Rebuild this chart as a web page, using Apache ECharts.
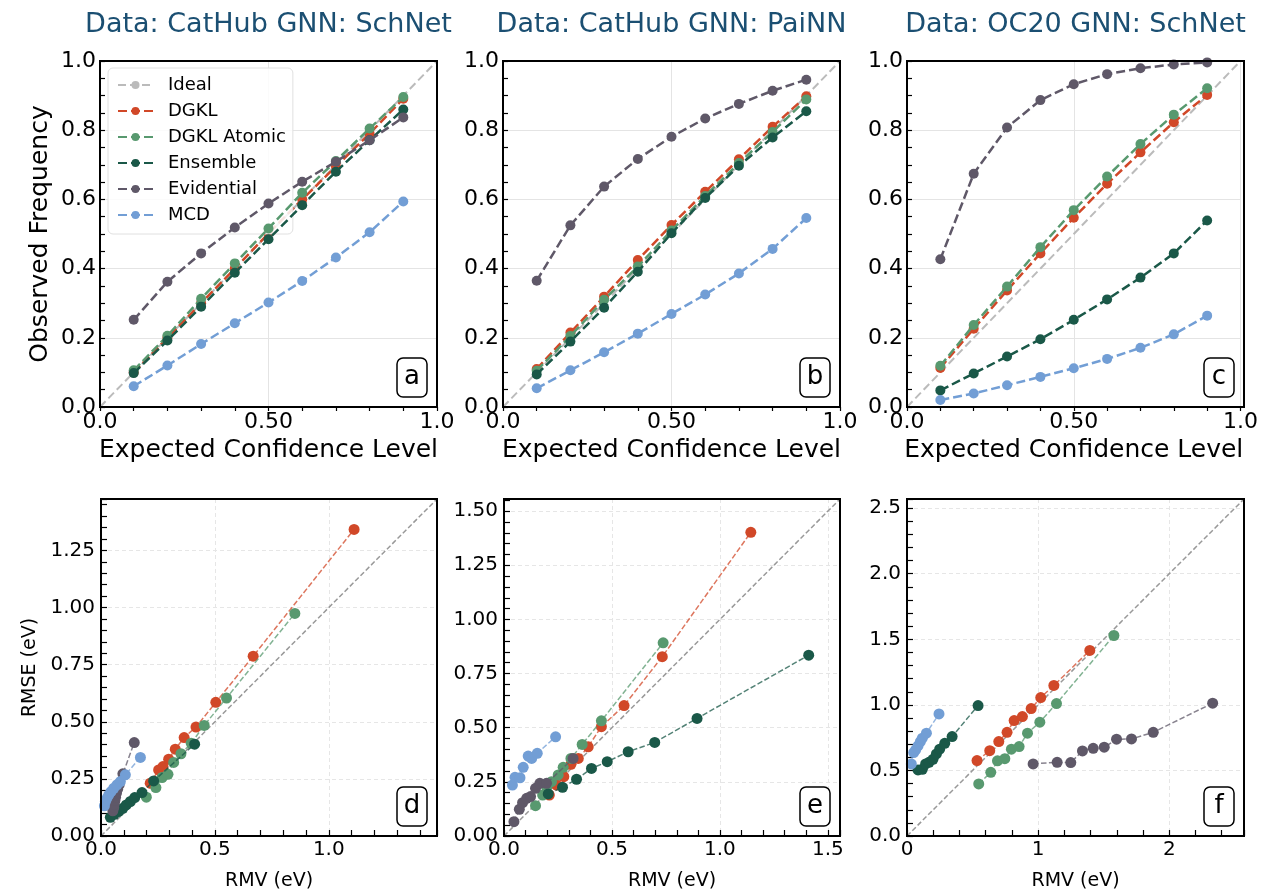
<!DOCTYPE html>
<html>
<head>
<meta charset="utf-8">
<script src="https://cdn.jsdelivr.net/npm/echarts@6/dist/echarts.min.js"></script>
<style>
html,body{margin:0;padding:0;background:#fff;}
#chart{width:1261px;height:895px;}
</style>
</head>
<body>
<div id="chart"></div>
<script>
// ---------- data ----------
const titles = ['Data: CatHub GNN: SchNet', 'Data: CatHub GNN: PaiNN', 'Data: OC20 GNN: SchNet'];
const methods = ['DGKL', 'DGKL Atomic', 'Ensemble', 'Evidential', 'MCD'];
const panelLetters = ['a', 'b', 'c', 'd', 'e', 'f'];
const confLevels = [0.1, 0.2, 0.3, 0.4, 0.5, 0.6, 0.7, 0.8, 0.9];

// calibration curves (observed frequency)
const aDGKL       = [0.100, 0.200, 0.300, 0.400, 0.502, 0.600, 0.695, 0.790, 0.891];
const aAtomic     = [0.106, 0.206, 0.313, 0.415, 0.516, 0.619, 0.711, 0.805, 0.896];
const aEnsemble   = [0.098, 0.192, 0.290, 0.388, 0.485, 0.583, 0.680, 0.771, 0.860];
const aEvidential = [0.252, 0.362, 0.444, 0.519, 0.588, 0.651, 0.709, 0.771, 0.837];
const aMCD        = [0.060, 0.120, 0.182, 0.242, 0.302, 0.364, 0.432, 0.505, 0.594];

const bDGKL       = [0.110, 0.215, 0.319, 0.425, 0.526, 0.622, 0.716, 0.810, 0.898];
const bAtomic     = [0.105, 0.205, 0.310, 0.406, 0.510, 0.610, 0.705, 0.795, 0.889];
const bEnsemble   = [0.094, 0.189, 0.287, 0.391, 0.502, 0.604, 0.697, 0.779, 0.855];
const bEvidential = [0.365, 0.525, 0.637, 0.717, 0.781, 0.834, 0.876, 0.914, 0.946];
const bMCD        = [0.054, 0.106, 0.158, 0.212, 0.269, 0.325, 0.386, 0.457, 0.546];

const cDGKL       = [0.113, 0.226, 0.337, 0.444, 0.547, 0.645, 0.736, 0.823, 0.902];
const cAtomic     = [0.119, 0.237, 0.348, 0.462, 0.569, 0.666, 0.760, 0.845, 0.921];
const cEnsemble   = [0.048, 0.097, 0.146, 0.196, 0.252, 0.311, 0.374, 0.444, 0.539];
const cEvidential = [0.427, 0.674, 0.808, 0.887, 0.933, 0.962, 0.979, 0.990, 0.996];
const cMCD        = [0.020, 0.039, 0.063, 0.087, 0.112, 0.139, 0.171, 0.210, 0.264];

// RMSE vs RMV (eV)
const dDGKL_rmv  = [0.216, 0.253, 0.272, 0.297, 0.326, 0.365, 0.417, 0.504, 0.668, 1.111];
const dDGKL_rmse = [0.231, 0.289, 0.304, 0.336, 0.380, 0.431, 0.477, 0.585, 0.787, 1.342];
const dAtomic_rmv  = [0.199, 0.241, 0.268, 0.294, 0.319, 0.351, 0.396, 0.453, 0.551, 0.851];
const dAtomic_rmse = [0.170, 0.212, 0.256, 0.270, 0.322, 0.360, 0.406, 0.484, 0.604, 0.974];
const dEnsemble_rmv  = [0.041, 0.058, 0.077, 0.096, 0.111, 0.129, 0.148, 0.180, 0.231, 0.411];
const dEnsemble_rmse = [0.082, 0.095, 0.107, 0.121, 0.136, 0.151, 0.168, 0.190, 0.241, 0.402];
const dEvidential_rmv  = [0.052, 0.056, 0.058, 0.061, 0.064, 0.068, 0.073, 0.080, 0.096, 0.146];
const dEvidential_rmse = [0.110, 0.125, 0.140, 0.155, 0.170, 0.188, 0.205, 0.225, 0.272, 0.409];
const dMCD_rmv  = [0.015, 0.019, 0.026, 0.034, 0.044, 0.056, 0.070, 0.085, 0.107, 0.173];
const dMCD_rmse = [0.132, 0.151, 0.165, 0.180, 0.194, 0.209, 0.224, 0.238, 0.268, 0.344];

const eDGKL_rmv  = [0.210, 0.243, 0.277, 0.310, 0.344, 0.390, 0.451, 0.556, 0.733, 1.143];
const eDGKL_rmse = [0.189, 0.235, 0.274, 0.331, 0.358, 0.412, 0.505, 0.602, 0.828, 1.402];
const eAtomic_rmv  = [0.146, 0.179, 0.198, 0.220, 0.251, 0.274, 0.310, 0.362, 0.451, 0.737];
const eAtomic_rmse = [0.140, 0.189, 0.225, 0.251, 0.282, 0.317, 0.358, 0.423, 0.532, 0.892];
const eEnsemble_rmv  = [0.205, 0.271, 0.336, 0.405, 0.478, 0.575, 0.698, 0.894, 1.411];
const eEnsemble_rmse = [0.194, 0.225, 0.262, 0.312, 0.343, 0.389, 0.432, 0.543, 0.835];
const eEvidential_rmv  = [0.046, 0.071, 0.086, 0.105, 0.123, 0.146, 0.166, 0.197, 0.320];
const eEvidential_rmse = [0.066, 0.123, 0.154, 0.174, 0.182, 0.220, 0.243, 0.243, 0.358];
const eMCD_rmv  = [0.039, 0.051, 0.074, 0.089, 0.112, 0.128, 0.154, 0.239];
const eMCD_rmse = [0.235, 0.271, 0.269, 0.317, 0.369, 0.358, 0.382, 0.458];

const fDGKL_rmv  = [0.534, 0.631, 0.700, 0.763, 0.817, 0.880, 0.947, 1.020, 1.120, 1.394];
const fDGKL_rmse = [0.575, 0.651, 0.720, 0.791, 0.880, 0.911, 0.972, 1.056, 1.148, 1.415];
const fAtomic_rmv  = [0.547, 0.639, 0.690, 0.746, 0.796, 0.855, 0.919, 1.013, 1.140, 1.578];
const fAtomic_rmse = [0.397, 0.486, 0.573, 0.590, 0.662, 0.682, 0.784, 0.868, 1.010, 1.529];
const fEnsemble_rmv  = [0.084, 0.117, 0.142, 0.168, 0.198, 0.224, 0.249, 0.288, 0.344, 0.542];
const fEnsemble_rmse = [0.504, 0.509, 0.550, 0.562, 0.585, 0.626, 0.662, 0.707, 0.758, 0.995];
const fEvidential_rmv  = [0.962, 1.145, 1.249, 1.338, 1.420, 1.504, 1.598, 1.712, 1.878, 2.331];
const fEvidential_rmse = [0.550, 0.562, 0.560, 0.649, 0.669, 0.677, 0.738, 0.740, 0.791, 1.013];
const fMCD_rmv  = [0.033, 0.051, 0.066, 0.084, 0.102, 0.117, 0.148, 0.244];
const fMCD_rmse = [0.550, 0.636, 0.656, 0.687, 0.720, 0.746, 0.784, 0.931];

// axis ranges / ticks
const bottomMax = [1.475, 1.556, 2.57];
const bottomInterval = [0.5, 0.5, 1];
const bottomYInterval = [0.25, 0.25, 0.5];

// ---------- styling ----------
const colors = {'DGKL':'#d14828','DGKL Atomic':'#58996f','Ensemble':'#1a5848','Evidential':'#5f5868','MCD':'#729ed5'};
const FONT = 'DejaVu Sans';

const topGrids = [
  {left:100, top:61, width:337, height:346},
  {left:503, top:61, width:337, height:346},
  {left:907, top:61, width:337, height:346}
];
const botGrids = [
  {left:101, top:499, width:336, height:337},
  {left:504, top:499, width:336, height:337},
  {left:907, top:499, width:337, height:337}
];

const grids = [], xAxes = [], yAxes = [], series = [], graphics = [];

// top panels
const topData = [
  [aDGKL, aAtomic, aEnsemble, aEvidential, aMCD],
  [bDGKL, bAtomic, bEnsemble, bEvidential, bMCD],
  [cDGKL, cAtomic, cEnsemble, cEvidential, cMCD]
];
topGrids.forEach((g, i) => {
  grids.push(Object.assign({show:false}, g));
  xAxes.push({
    type:'value', gridIndex:i, min:0, max:1, interval:0.5,
    name:'Expected Confidence Level', nameLocation:'middle', nameGap:31,
    nameTextStyle:{fontFamily:FONT, fontSize:25, color:'#000'},
    axisLine:{show:true, lineStyle:{color:'#000', width:2}},
    axisTick:{show:true, inside:false, length:4, lineStyle:{color:'#000', width:1.2}},
    minorTick:{show:true, splitNumber:5, length:4, lineStyle:{color:'#000', width:1.2}},
    axisLabel:{fontFamily:FONT, fontSize:22, color:'#000', margin:4,
      formatter: v => (Math.abs(v-0.5)<1e-9 ? '0.50' : v.toFixed(1))},
    splitLine:{show:true, lineStyle:{color:'#e4e4e4', width:1}}
  });
  yAxes.push({
    type:'value', gridIndex:i, min:0, max:1, interval:0.2,
    name: i===0 ? 'Observed Frequency' : '', nameLocation:'middle', nameGap:47,
    nameTextStyle:{fontFamily:FONT, fontSize:25, color:'#000'},
    axisLine:{show:true, lineStyle:{color:'#000', width:2}},
    axisTick:{show:true, inside:true, length:5, lineStyle:{color:'#000', width:1.2}},
    minorTick:{show:true, splitNumber:4, length:5, lineStyle:{color:'#000', width:1.2}},
    axisLabel:{fontFamily:FONT, fontSize:22, color:'#000', margin:4, formatter: v => v.toFixed(1)},
    splitLine:{show:true, lineStyle:{color:'#e4e4e4', width:1}}
  });
  series.push({
    type:'line', name:'Ideal', xAxisIndex:i, yAxisIndex:i, data:[[0,0],[1,1]],
    symbol:'none', lineStyle:{color:'#bbbbbb', width:2, type:[8,4]}, itemStyle:{color:'#bbbbbb'},
    z:1, silent:true
  });
  methods.forEach((m, k) => {
    const vals = topData[i][k];
    series.push({
      type:'line', name:m, xAxisIndex:i, yAxisIndex:i,
      data: confLevels.map((c, j) => [c, vals[j]]),
      symbol:'circle', symbolSize:10, showSymbol:true,
      itemStyle:{color:colors[m]},
      lineStyle:{color:colors[m], width:2.5, type:[9,4]},
      z:3+k, clip:false
    });
  });
  graphics.push({type:'text', x:g.left + g.width/2, y:25,
    style:{text:titles[i], fill:'#1b4f72', font:'27px "DejaVu Sans"', textAlign:'center', textVerticalAlign:'middle'}});
});

// bottom panels
const botData = [
  [[dDGKL_rmv,dDGKL_rmse],[dAtomic_rmv,dAtomic_rmse],[dEnsemble_rmv,dEnsemble_rmse],[dEvidential_rmv,dEvidential_rmse],[dMCD_rmv,dMCD_rmse]],
  [[eDGKL_rmv,eDGKL_rmse],[eAtomic_rmv,eAtomic_rmse],[eEnsemble_rmv,eEnsemble_rmse],[eEvidential_rmv,eEvidential_rmse],[eMCD_rmv,eMCD_rmse]],
  [[fDGKL_rmv,fDGKL_rmse],[fAtomic_rmv,fAtomic_rmse],[fEnsemble_rmv,fEnsemble_rmse],[fEvidential_rmv,fEvidential_rmse],[fMCD_rmv,fMCD_rmse]]
];
const xFmt = [v => v.toFixed(1), v => v.toFixed(1), v => v.toFixed(0)];
const yFmt = [v => v.toFixed(2), v => v.toFixed(2), v => v.toFixed(1)];
botGrids.forEach((g, i) => {
  const gi = 3 + i;
  const mx = bottomMax[i];
  grids.push(Object.assign({show:false}, g));
  xAxes.push({
    type:'value', gridIndex:gi, min:0, max:mx, interval:bottomInterval[i],
    name:'RMV (eV)', nameLocation:'middle', nameGap:36,
    nameTextStyle:{fontFamily:FONT, fontSize:19, color:'#000'},
    axisLine:{show:true, lineStyle:{color:'#000', width:2}},
    axisTick:{show:true, inside:true, length:6, lineStyle:{color:'#000', width:1.2}},
    minorTick:{show:true, splitNumber:5, length:6, lineStyle:{color:'#000', width:1.2}},
    axisLabel:{fontFamily:FONT, fontSize:20, color:'#000', margin:4, showMaxLabel:false, formatter:xFmt[i]},
    splitLine:{show:true, showMaxLine:false, lineStyle:{color:'#e6e6e6', width:1, type:[4,3]}}
  });
  yAxes.push({
    type:'value', gridIndex:gi, min:0, max:mx, interval:bottomYInterval[i],
    name: i===0 ? 'RMSE (eV)' : '', nameLocation:'middle', nameGap:61,
    nameTextStyle:{fontFamily:FONT, fontSize:19, color:'#000'},
    axisLine:{show:true, lineStyle:{color:'#000', width:2}},
    axisTick:{show:true, inside:true, length:6, lineStyle:{color:'#000', width:1.2}},
    minorTick:{show:true, splitNumber:5, length:6, lineStyle:{color:'#000', width:1.2}},
    axisLabel:{fontFamily:FONT, fontSize:20, color:'#000', margin:6, showMaxLabel:false, formatter:yFmt[i]},
    splitLine:{show:true, showMaxLine:false, lineStyle:{color:'#e6e6e6', width:1, type:[4,3]}}
  });
  series.push({
    type:'line', name:'Ideal', xAxisIndex:gi, yAxisIndex:gi, data:[[0,0],[mx,mx]],
    symbol:'none', lineStyle:{color:'#999999', width:1.5, type:[5,2.5]}, itemStyle:{color:'#999999'},
    z:1, silent:true
  });
  methods.forEach((m, k) => {
    const [xs, ys] = botData[i][k];
    series.push({
      type:'line', name:m, xAxisIndex:gi, yAxisIndex:gi,
      data: xs.map((x, j) => [x, ys[j]]),
      symbol:'circle', symbolSize:11, showSymbol:true,
      itemStyle:{color:colors[m]},
      lineStyle:{color:colors[m], width:1.5, type:[5.5,2.4], opacity:0.75},
      z:3+k, clip:false
    });
  });
});

// frames and panel letter boxes
const allGrids = topGrids.concat(botGrids);
allGrids.forEach((g, i) => {
  graphics.push({type:'rect', shape:{x:g.left, y:g.top, width:g.width, height:g.height},
    style:{fill:null, stroke:'#000', lineWidth:2}, z:90, silent:true});
  const right = g.left + g.width - 10;
  const bottom = g.top + g.height - 10;
  graphics.push({type:'rect', shape:{x:right-30, y:bottom-39, width:30, height:39, r:6},
    style:{fill:'#fff', stroke:'#000', lineWidth:1.5}, z:100});
  graphics.push({type:'text', x:right-15, y:bottom-19.5,
    style:{text:panelLetters[i], fill:'#000', font:'26px "DejaVu Sans"', textAlign:'center', textVerticalAlign:'middle'}, z:101});
});

const option = {
  animation:false,
  backgroundColor:'#fff',
  textStyle:{fontFamily:FONT},
  grid: grids,
  xAxis: xAxes,
  yAxis: yAxes,
  legend: {
    data: ['Ideal'].concat(methods),
    orient:'vertical', left:108, top:68,
    backgroundColor:'rgba(255,255,255,0.85)', borderColor:'#e0e0e0', borderWidth:1, borderRadius:5,
    padding:[8, 7, 10, 9], itemGap:8, itemWidth:35, itemHeight:10,
    textStyle:{fontFamily:FONT, fontSize:18, color:'#000', padding:[0,0,0,10]},
    selectedMode:false
  },
  series: series,
  graphic: graphics
};

const chart = echarts.init(document.getElementById('chart'), null, {renderer:'canvas'});
chart.setOption(option);
</script>
</body>
</html>
